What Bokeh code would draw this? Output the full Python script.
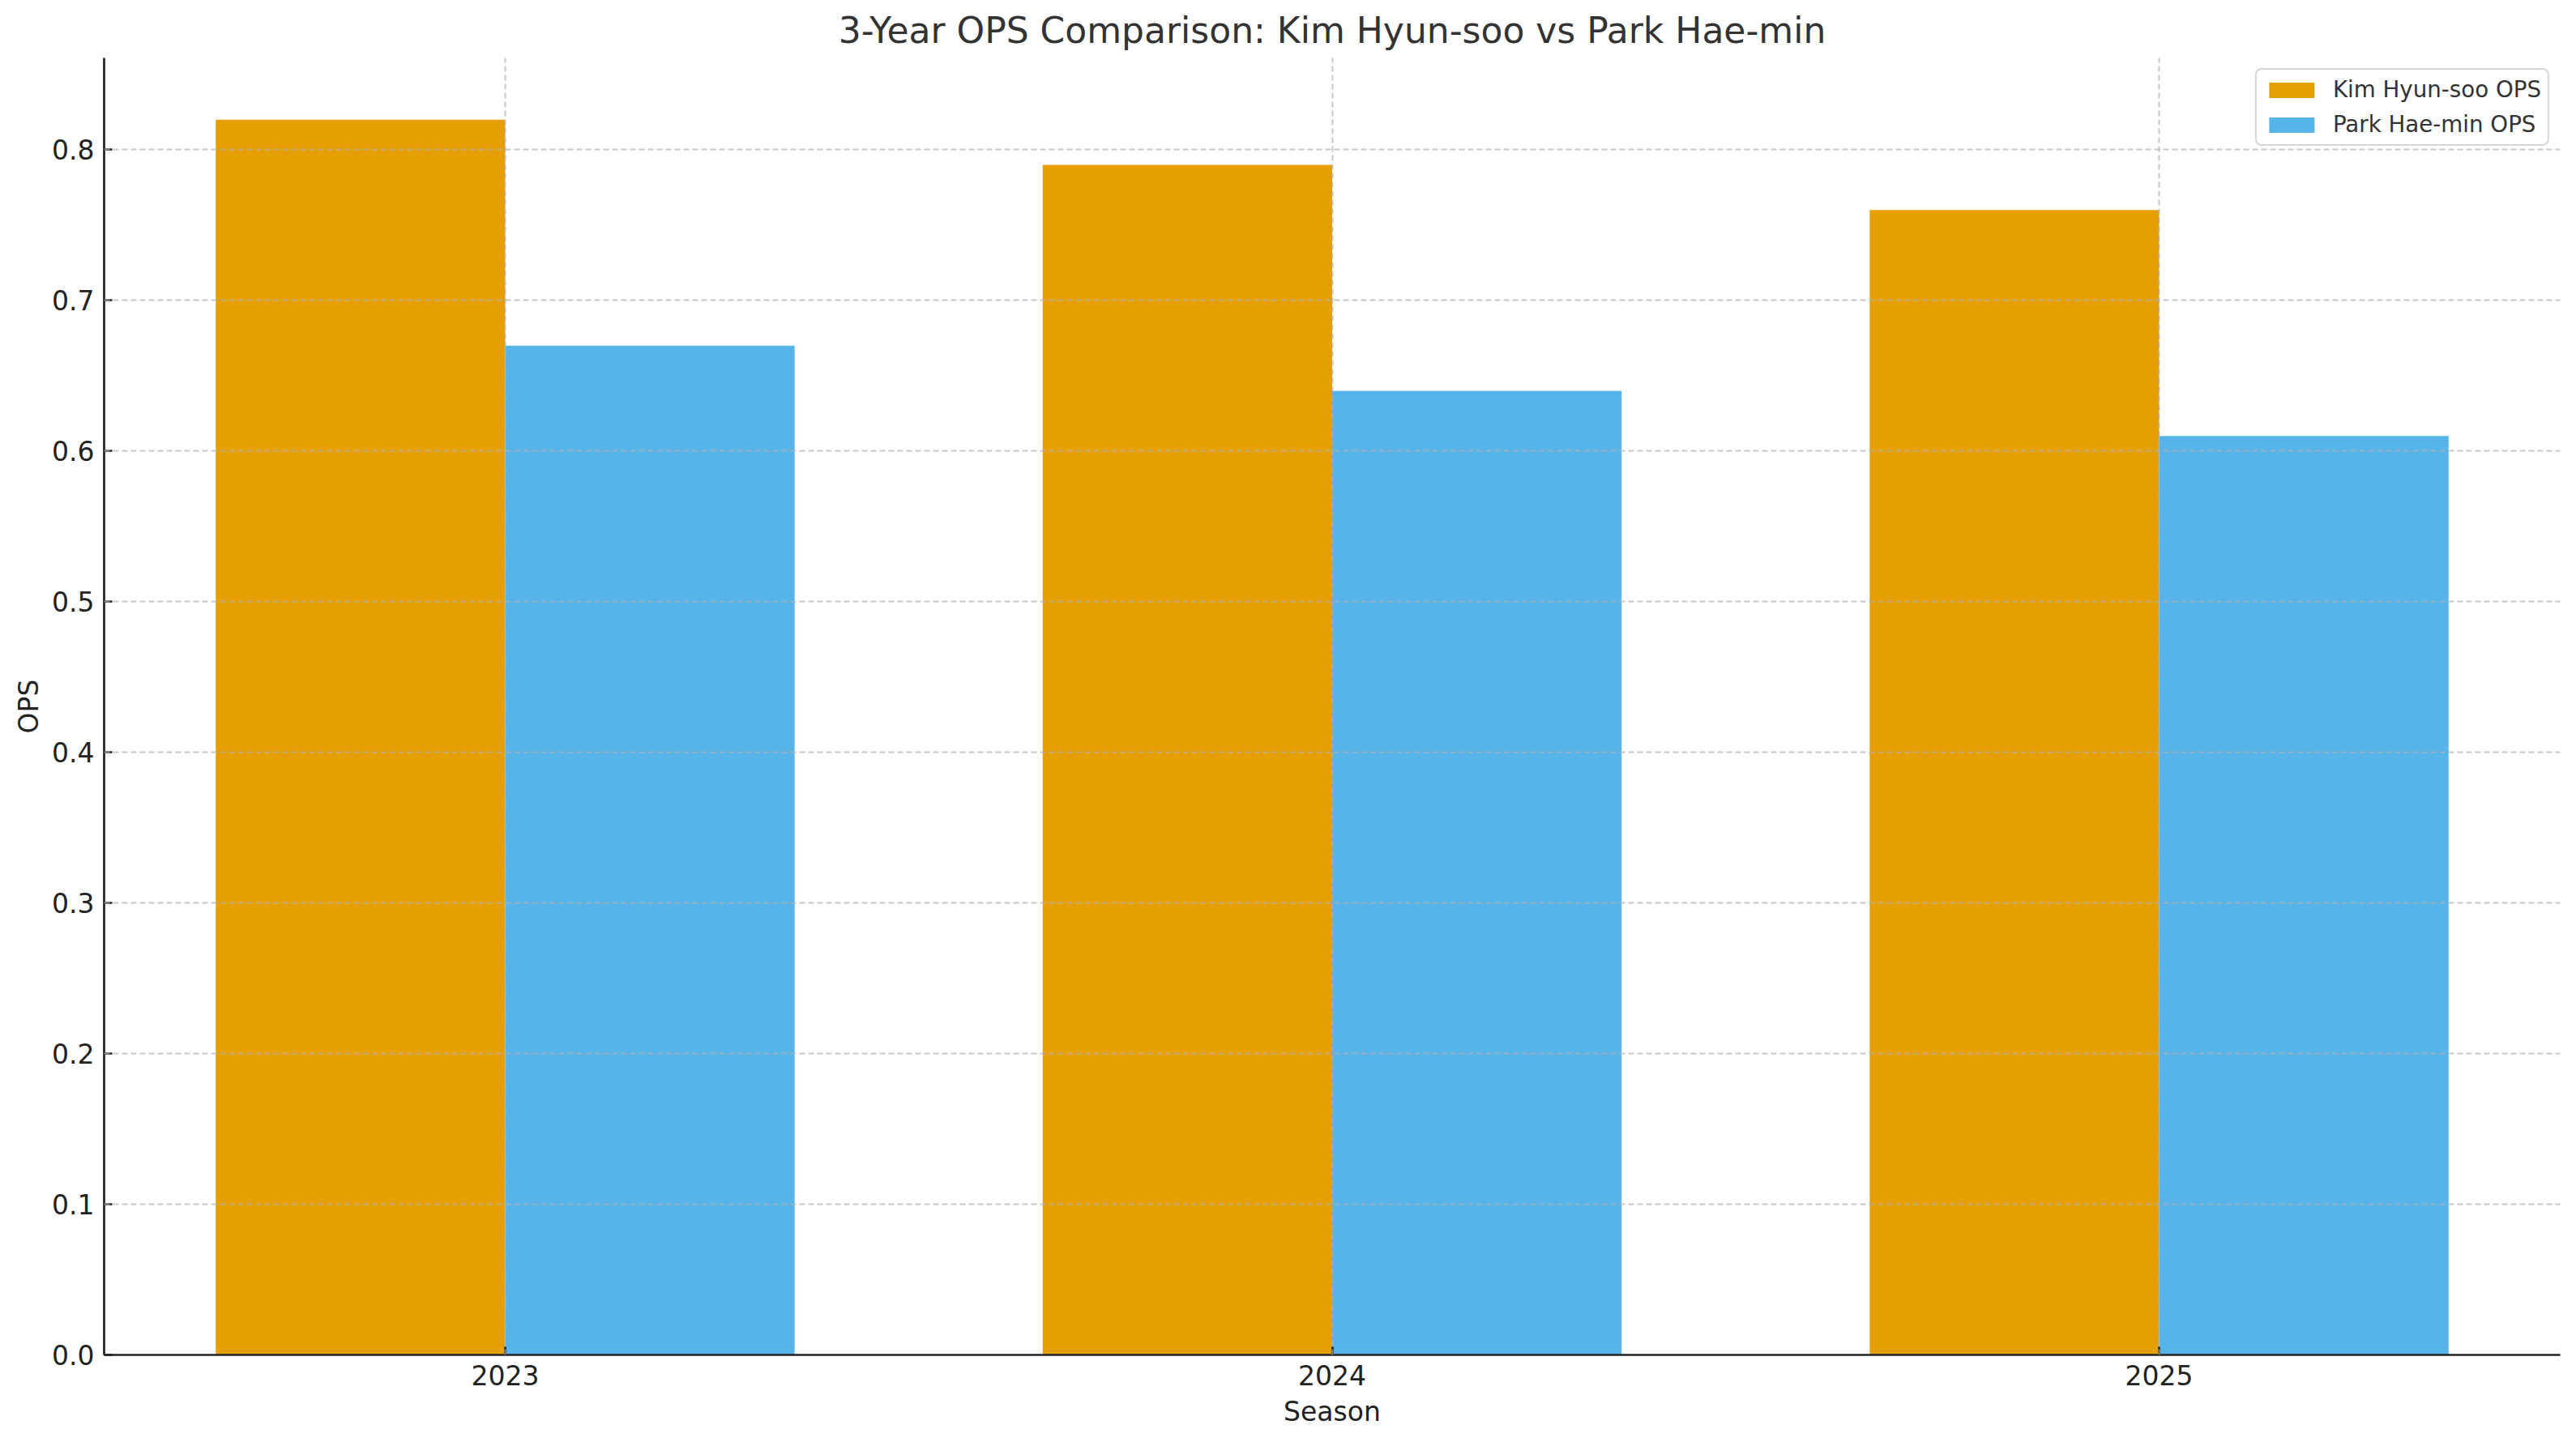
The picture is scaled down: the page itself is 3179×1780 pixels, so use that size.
import numpy as np
from bokeh.plotting import figure
from bokeh.models import (Range1d, FixedTicker, PrintfTickFormatter, Legend,
                          LegendItem, ColumnDataSource)
from bokeh.embed import file_html
from bokeh.resources import INLINE

# ---- data ----
seasons = ["2023", "2024", "2025"]
kim_ops = [0.82, 0.79, 0.76]
park_ops = [0.67, 0.64, 0.61]
series_names = ["Kim Hyun-soo OPS", "Park Hae-min OPS"]
series_colors = ["#E69F00", "#56B4E9"]
y_tick_values = [0.0, 0.1, 0.2, 0.3, 0.4, 0.5, 0.6, 0.7, 0.8]
title_text = "3-Year OPS Comparison: Kim Hyun-soo vs Park Hae-min"
x_label = "Season"
y_label = "OPS"

FONT = "DejaVu Sans"
bar_width = 0.35
idx = np.arange(len(seasons), dtype=float)

src = ColumnDataSource(dict(
    x_kim=idx - bar_width / 2,
    x_park=idx + bar_width / 2,
    kim=kim_ops,
    park=park_ops,
))

lo, hi = -bar_width, (len(seasons) - 1) + bar_width
pad = 0.05 * (hi - lo)
ymax = max(max(kim_ops), max(park_ops)) * 1.05

p = figure(width=3163, height=1764, output_backend="svg", toolbar_location=None,
           x_range=Range1d(lo - pad, hi + pad), y_range=Range1d(0, ymax),
           min_border_left=128, min_border_right=4, min_border_top=71,
           min_border_bottom=91)
p.outline_line_color = None
p.background_fill_color = "white"
p.border_fill_color = "white"

r1 = p.vbar(x="x_kim", top="kim", width=bar_width, source=src,
            fill_color=series_colors[0], line_color=None)
r2 = p.vbar(x="x_park", top="park", width=bar_width, source=src,
            fill_color=series_colors[1], line_color=None)

# title
p.title.text = title_text
p.title.align = "center"
p.title.text_font = FONT
p.title.text_font_size = "44px"
p.title.text_font_style = "normal"
p.title.text_color = "#333333"
p.title.standoff = 18

# axes
xa = p.xaxis[0]
ya = p.yaxis[0]
xa.ticker = FixedTicker(ticks=list(idx))
xa.major_label_overrides = {float(i): s for i, s in zip(idx, seasons)}
xa.major_label_overrides.update({int(i): s for i, s in zip(idx, seasons)})
ya.ticker = FixedTicker(ticks=y_tick_values)
ya.formatter = PrintfTickFormatter(format="%.1f")
for ax in (xa, ya):
    ax.axis_line_color = "#222222"
    ax.axis_line_width = 2.7
    ax.major_tick_line_color = "#222222"
    ax.major_tick_line_width = 2.7
    ax.major_tick_in = 10
    ax.major_tick_out = 0
    ax.minor_tick_line_color = None
    ax.major_label_text_font = FONT
    ax.major_label_text_font_size = "33px"
    ax.major_label_text_color = "#222222"
    ax.axis_label_text_font = FONT
    ax.axis_label_text_font_size = "33px"
    ax.axis_label_text_font_style = "normal"
    ax.axis_label_text_color = "#222222"
    ax.major_label_standoff = 12
xa.axis_label_standoff = 10
ya.axis_label_standoff = 6
xa.axis_label = x_label
ya.axis_label = y_label

# grid (drawn above bars, dashed)
p.xgrid.ticker = FixedTicker(ticks=list(idx))
p.ygrid.ticker = FixedTicker(ticks=[t for t in y_tick_values if t > 0])
for g in (p.xgrid, p.ygrid):
    g.grid_line_color = "#b0b0b0"
    g.grid_line_alpha = 0.7
    g.grid_line_width = 2
    g.grid_line_dash = "7 4"
    g.level = "annotation"

# legend (bokeh insets area glyphs by 10% on each side)
legend = Legend(items=[LegendItem(label=series_names[0], renderers=[r1]),
                       LegendItem(label=series_names[1], renderers=[r2])],
                location="top_right")
legend.margin = 13
legend.padding = 8
legend.spacing = 10
legend.glyph_width = 70
legend.glyph_height = 24
legend.label_height = 32
legend.label_standoff = 16
legend.label_text_font = FONT
legend.label_text_font_size = "27.7px"
legend.label_text_color = "#333333"
legend.border_line_color = "#cccccc"
legend.border_line_width = 2.7
legend.border_line_alpha = 0.8
legend.background_fill_color = "white"
legend.background_fill_alpha = 0.8
if "border_radius" in Legend.properties():
    legend.border_radius = 8
p.add_layout(legend)

open("out.html", "w").write(file_html(p, INLINE))
